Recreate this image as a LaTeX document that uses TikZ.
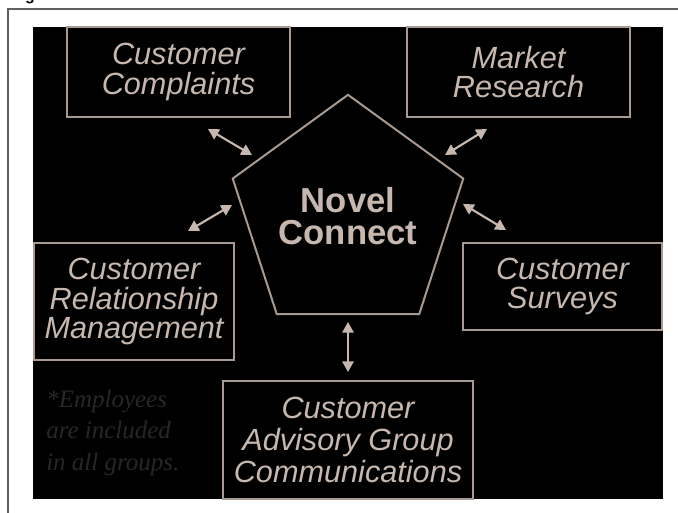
\documentclass[tikz,border=0pt]{standalone}
\usepackage{fontspec}
\setmainfont{Liberation Serif}
\setsansfont{Liberation Sans}
\usetikzlibrary{shapes.geometric,arrows.meta}
\definecolor{tanline}{RGB}{168,154,144}
\definecolor{tantext}{RGB}{198,184,174}
\definecolor{noteink}{RGB}{42,38,38}
\definecolor{framegray}{RGB}{95,95,95}
\tikzset{
  groupbox/.style={draw=tanline, line width=1.5pt, inner sep=0pt, align=center, text=tantext,
    font={\sffamily\itshape\fontsize{23}{22}\selectfont}},
  twoway/.style={draw=tantext, line width=1.6pt,
    {Triangle[length=8pt,width=8.5pt]}-{Triangle[length=8pt,width=8.5pt]}},
}

\begin{document}
\begin{tikzpicture}[x=0.75pt,y=0.75pt,yscale=-1,xscale=1]
        \useasboundingbox (0,0) rectangle (678,512);
        \draw [framegray, line width=1.2pt] (8,9) rectangle (700,540);
        \node [anchor=base, inner sep=0pt, font={\sffamily\bfseries\fontsize{12}{12}\selectfont}] (figtag) at (30,0) {g};
        \fill [black] (33,27) rectangle (663,499);

        \node [regular polygon, regular polygon sides=5, draw=tanline, line width=1.5pt, minimum size=178.5pt, inner sep=0pt,
               align=center, text=tantext, font={\sffamily\bfseries\fontsize{26}{24}\selectfont}] (ncon) at (348,216) {Novel\\Connect};

        \node [groupbox, minimum width=167.25pt, minimum height=67.5pt] (cc) at (178.5,72) {Customer\\Complaints};
        \node [groupbox, minimum width=167.25pt, minimum height=67.5pt] (mr) at (518.5,72) {Market\\Research};
        \node [groupbox, minimum width=149.25pt, minimum height=65.25pt] (cs) at (562.5,286.5) {Customer\\Surveys};
        \node [groupbox, minimum width=150pt, minimum height=87.75pt] (crm) at (134,301.5) {Customer\\Relationship\\Management};
        \node [groupbox, minimum width=187.5pt, minimum height=88.5pt, font={\sffamily\itshape\fontsize{23}{24}\selectfont}] (cagc) at (348,440) {Customer\\Advisory Group\\Communications};

        \node [anchor=north west, inner sep=0pt, align=left, text=noteink,
               font={\itshape\fontsize{18.75}{23.5}\selectfont}] (note) at (46,390) {*Employees\\are included\\in all groups.};

        \coordinate (ccA) at (208,129);
        \coordinate (ccB) at (252,155);
        \coordinate (mrA) at (487,129);
        \coordinate (mrB) at (445,155);
        \coordinate (crmA) at (188,231);
        \coordinate (crmB) at (232,205);
        \coordinate (csA) at (506,230);
        \coordinate (csB) at (463,204);
        \coordinate (cagA) at (348,372);
        \coordinate (cagB) at (348,322);
        \draw [twoway] (ccA) -- (ccB);
        \draw [twoway] (mrA) -- (mrB);
        \draw [twoway] (crmA) -- (crmB);
        \draw [twoway] (csA) -- (csB);
        \draw [twoway] (cagA) -- (cagB);
\end{tikzpicture}
\end{document}
